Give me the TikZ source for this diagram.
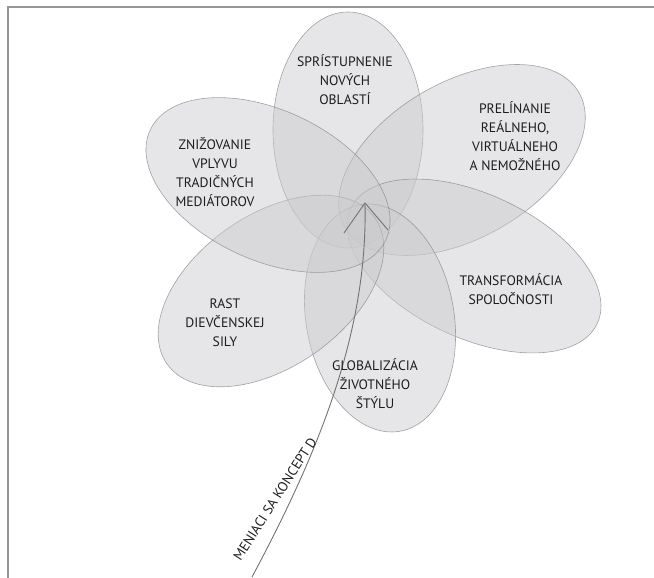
\documentclass[tikz,border=0pt]{standalone}
\usepackage{fontspec}
\setmainfont{PT Sans}
\begin{document}
\begin{tikzpicture}[x=1pt,y=1pt,
  petal/.style={fill=petalfill,fill opacity=0.48,draw=petaledge,draw opacity=0.75,line width=0.6pt},
  lbl/.style={text=textc,align=center,font=\fontsize{13.7}{19}\selectfont,inner sep=0pt},
  stemline/.style={draw=stemc,line width=0.9pt},
]
\definecolor{petalfill}{RGB}{203,203,206}
\definecolor{petaledge}{RGB}{135,135,137}
\definecolor{textc}{RGB}{30,28,29}
\definecolor{stemc}{RGB}{115,115,117}
\definecolor{framec}{RGB}{150,150,150}
\useasboundingbox (0,0) rectangle (654,578);
% frame
\draw[framec,line width=1.3pt] (8,0) -- (8,571) -- (654,571);
% petals
\path[petal] (348,448) ellipse [x radius=75,y radius=118];
\path[petal] (462,418) ellipse [x radius=135,y radius=78,rotate=30];
\path[petal] (474,312) ellipse [x radius=136,y radius=72,rotate=-25];
\path[petal] (380,260) ellipse [x radius=115,y radius=74,rotate=-80];
\path[petal] (271,287) ellipse [x radius=127,y radius=76,rotate=35];
\path[petal] (268,393) ellipse [x radius=130,y radius=75,rotate=-25];
% stem
\coordinate (base) at (252,1);
\coordinate (apex) at (365,375);
\coordinate (armL) at (344,345);
\coordinate (armR) at (388,348);
\draw[stemline] (base) .. controls (320,128) and (368,248) .. (apex);
\draw[stemline] (armL) -- (apex) -- (armR);
% labels
\node[lbl] (t1) at (345,498) {SPRÍSTUPNENIE\\NOVÝCH\\OBLASTÍ};
\node[lbl] (t2) at (515,442) {PRELÍNANIE\\REÁLNEHO,\\VIRTUÁLNEHO\\A NEMOŽNÉHO};
\node[lbl] (t3) at (215,406) {ZNIŽOVANIE\\VPLYVU\\TRADIČNÝCH\\MEDIÁTOROV};
\node[lbl] (t4) at (511,289) {TRANSFORMÁCIA\\SPOLOČNOSTI};
\node[lbl] (t5) at (225,255) {RAST\\DIEVČENSKEJ\\SILY};
\node[lbl] (t6) at (375,194) {GLOBALIZÁCIA\\ŽIVOTNÉHO\\ŠTÝLU};
\node[lbl,rotate=57.5] (t7) at (275,79) {MENIACI SA KONCEPT D};
\end{tikzpicture}
\end{document}
